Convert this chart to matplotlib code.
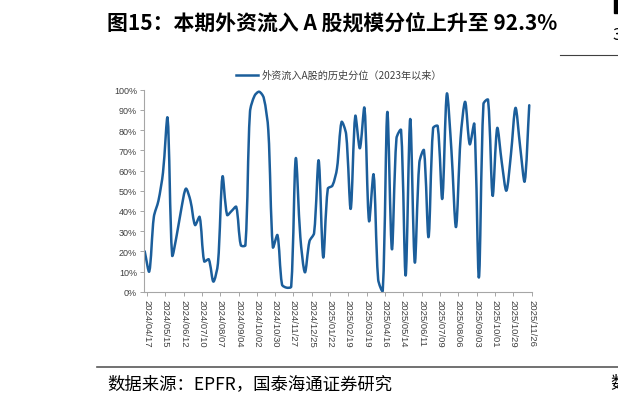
import matplotlib
matplotlib.use("Agg")
import matplotlib.pyplot as plt
import numpy as np
from matplotlib.path import Path
from matplotlib.patches import PathPatch, Rectangle
from matplotlib.lines import Line2D

plt.rcParams['font.family'] = ['Noto Sans CJK SC', 'DejaVu Sans']

# weekly values, 2024/04/17 .. 2025/11/26 (percent)
percentile = [
    20, 10, 37, 45, 59, 86, 18, 28, 41, 51,
    45, 33, 37, 15, 16, 5, 14, 57, 38, 40,
    42, 23, 23, 89, 97, 99, 96, 80, 22, 28,
    3.5, 2, 2.5, 66, 27, 9.6, 25, 29, 65, 17,
    51, 52.5, 61, 84, 78, 41, 87, 71, 91, 35,
    58, 6, 0.5, 89, 21, 76, 80, 8, 85.5, 14.5,
    64, 70, 27, 81, 82, 46, 98, 70, 32, 76,
    94, 73, 83, 7, 93, 95, 47.5, 81, 64, 50,
    68, 91, 72, 54.6, 92.3,
]
tick_labels = [
    "2024/04/17", "2024/05/15", "2024/06/12", "2024/07/10", "2024/08/07",
    "2024/09/04", "2024/10/02", "2024/10/30", "2024/11/27", "2024/12/25",
    "2025/01/22", "2025/02/19", "2025/03/19", "2025/04/16", "2025/05/14",
    "2025/06/11", "2025/07/09", "2025/08/06", "2025/09/03", "2025/10/01",
    "2025/10/29", "2025/11/26",
]
series_name = "外资流入A股的历史分位（2023年以来）"
title = "图15：本期外资流入 A 股规模分位上升至 92.3%"
source = "数据来源：EPFR，国泰海通证券研究"

W, H = 618, 406
fig = plt.figure(figsize=(W / 100, H / 100), dpi=100)
ax = fig.add_axes([144 / W, 1 - 292.7 / H, (532 - 144) / W, (292.7 - 90.7) / H])
ax.set_xlim(-0.15, 84.6)
ax.set_ylim(0, 1)


def smooth_path(xs, ys, sx, sy):
    # excel-like smoothing: tangent through neighbours, weighted by chord length (in pixels)
    pts = np.column_stack([xs, ys])
    n = len(pts)
    scale = np.array([sx, sy])
    out_c = np.zeros_like(pts)
    in_c = np.zeros_like(pts)
    for i in range(n):
        p0 = pts[max(i - 1, 0)]
        p2 = pts[min(i + 1, n - 1)]
        d01 = np.linalg.norm((pts[i] - p0) * scale)
        d12 = np.linalg.norm((p2 - pts[i]) * scale)
        tot = d01 + d12
        if tot == 0:
            out_c[i] = in_c[i] = pts[i]
            continue
        t = (p2 - p0)
        out_c[i] = pts[i] + t * (d12 / tot) / 3.0 * 0.9
        in_c[i] = pts[i] - t * (d01 / tot) / 3.0 * 0.9
    verts = [pts[0]]
    codes = [Path.MOVETO]
    for i in range(n - 1):
        verts += [out_c[i], in_c[i + 1], pts[i + 1]]
        codes += [Path.CURVE4] * 3
    return Path(verts, codes)


x = np.arange(len(percentile), dtype=float)
y = np.array(percentile) / 100.0
line_color = "#1B5E9B"
ax.add_patch(PathPatch(smooth_path(x, y, 4.59, 202.0), fill=False, edgecolor=line_color,
                       linewidth=1.8, capstyle="round", joinstyle="round"))

ax.set_yticks(np.arange(0, 1.01, 0.1))
ax.set_yticklabels([f"{int(round(v * 100))}%" for v in np.arange(0, 1.01, 0.1)],
                   fontsize=6.5, color="#404040", family="Liberation Sans")
ax.set_xticks([4 * k + 0.5 for k in range(len(tick_labels))])
ax.set_xticklabels(tick_labels, rotation=-90, fontsize=6.8, color="#404040",
                   family="Liberation Sans")
for s in ["top", "right"]:
    ax.spines[s].set_visible(False)
for s in ["left", "bottom"]:
    ax.spines[s].set_color("#A6A6A6")
    ax.spines[s].set_linewidth(0.8)
ax.tick_params(axis="both", direction="out", length=3, width=0.7, color="#A6A6A6", pad=2)

handle = Line2D([], [], color=line_color, linewidth=1.8)
fig.legend([handle], [series_name], loc="center", bbox_to_anchor=(339 / W, 1 - 76 / H),
           frameon=False, fontsize=7.3, handlelength=2.2, handletextpad=0.3,
           labelcolor="#404040")

fig.text(107 / W, 1 - 23 / H, title, fontsize=15, fontweight="bold", va="center", ha="left")
fig.text(107 / W, 1 - 384 / H, source, fontsize=12.5, va="center", ha="left")

# page furniture cut off at the edges
fig.add_artist(Line2D([97 / W, 1], [1 - 368 / H, 1 - 368 / H], color="#595959", linewidth=1.2))
fig.add_artist(Line2D([560 / W, 1], [1 - 56 / H, 1 - 56 / H], color="#404040", linewidth=0.8))
fig.add_artist(Rectangle((614 / W, 1 - 14 / H), 4 / W, 14 / H, color="black"))
fig.text(612 / W, 1 - 36 / H, "3", fontsize=12, va="center", ha="left")
fig.text(610 / W, 1 - 384 / H, "数", fontsize=12.5, va="center", ha="left")

fig.savefig("out.png", dpi=100)
